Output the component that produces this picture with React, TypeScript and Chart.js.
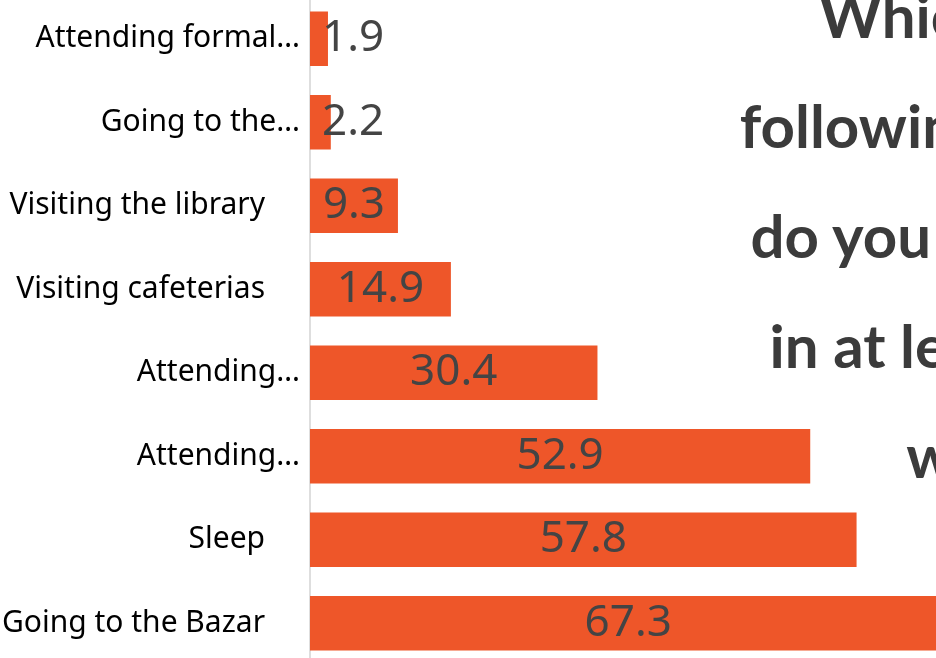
import React, { useEffect, useRef } from "react";
import { Chart, registerables } from "chart.js";

Chart.register(...registerables);

const categories = [
  "Attending formal…",
  "Going to the…",
  "Visiting the library",
  "Visiting cafeterias",
  "Attending…",
  "Attending…",
  "Sleep",
  "Going to the Bazar",
];
const values = [1.9, 2.2, 9.3, 14.9, 30.4, 52.9, 57.8, 67.3];
const titleLines = [
  "Which of the",
  "following activities",
  "do you participate",
  "in at least once a",
  "week?",
];
const xMin = 0;
const xMax = 66.2;

const BAR_COLOR = "#EE5629";
const LABEL_FONT = '"Noto Sans", "Open Sans", sans-serif';

const valueLabels = {
  id: "valueLabels",
  afterDatasetsDraw(chart: any) {
    const { ctx } = chart;
    const meta = chart.getDatasetMeta(0);
    const xs = chart.scales.x;
    ctx.save();
    ctx.font = `400 44px ${LABEL_FONT}`;
    ctx.fillStyle = "#444444";
    ctx.textAlign = "left";
    ctx.textBaseline = "middle";
    meta.data.forEach((bar: any, i: number) => {
      const v = values[i];
      const x0 = xs.getPixelForValue(0);
      const x1 = xs.getPixelForValue(v);
      const text = v.toFixed(1);
      const w = ctx.measureText(text).width;
      const left = Math.max((x0 + x1) / 2 - w / 2, x0 + 12);
      ctx.fillText(text, left, bar.y);
    });
    ctx.restore();
  },
};

export default function App() {
  const ref = useRef<HTMLCanvasElement | null>(null);

  useEffect(() => {
    if (!ref.current) return;
    const chart = new Chart(ref.current, {
      type: "bar",
      data: {
        labels: categories,
        datasets: [
          {
            data: values,
            backgroundColor: BAR_COLOR,
            borderWidth: 0,
            barPercentage: 0.65,
            categoryPercentage: 1,
          },
        ],
      },
      options: {
        indexAxis: "y",
        animation: false,
        responsive: true,
        maintainAspectRatio: false,
        layout: { padding: 0 },
        plugins: {
          legend: { display: false },
          title: { display: false },
          tooltip: { enabled: false },
        },
        scales: {
          x: {
            display: false,
            min: xMin,
            max: xMax,
          },
          y: {
            offset: true,
            grid: { display: false, drawTicks: false },
            border: { display: true, color: "#dedede", width: 2 },
            ticks: {
              padding: 10,
              color: "#000000",
              font: { family: LABEL_FONT, size: 30 },
              callback: (_v: any, i: number) => {
                const l = categories[i];
                return l.endsWith("…") ? l : l + "\u2003\u2009";
              },
            },
            afterFit: (scale: any) => {
              scale.width = 310;
            },
          },
        },
      },
      plugins: [valueLabels],
    });
    return () => chart.destroy();
  }, []);

  return (
    <div
      style={{
        position: "fixed",
        left: 0,
        top: 0,
        width: 936,
        height: 658,
        overflow: "hidden",
        background: "#ffffff",
      }}
    >
      <div style={{ position: "absolute", left: 0, top: -31, width: 936, height: 724 }}>
        <canvas ref={ref} />
      </div>
      <div
        style={{
          position: "absolute",
          left: 692,
          top: -40,
          width: 600,
          textAlign: "center",
          fontFamily: "Lato, sans-serif",
          fontWeight: 700,
          fontSize: 60,
          lineHeight: "110px",
          color: "#3b3b3b",
          whiteSpace: "nowrap",
        }}
      >
        {titleLines.map((t, i) => (
          <div key={i}>{t}</div>
        ))}
      </div>
    </div>
  );
}
